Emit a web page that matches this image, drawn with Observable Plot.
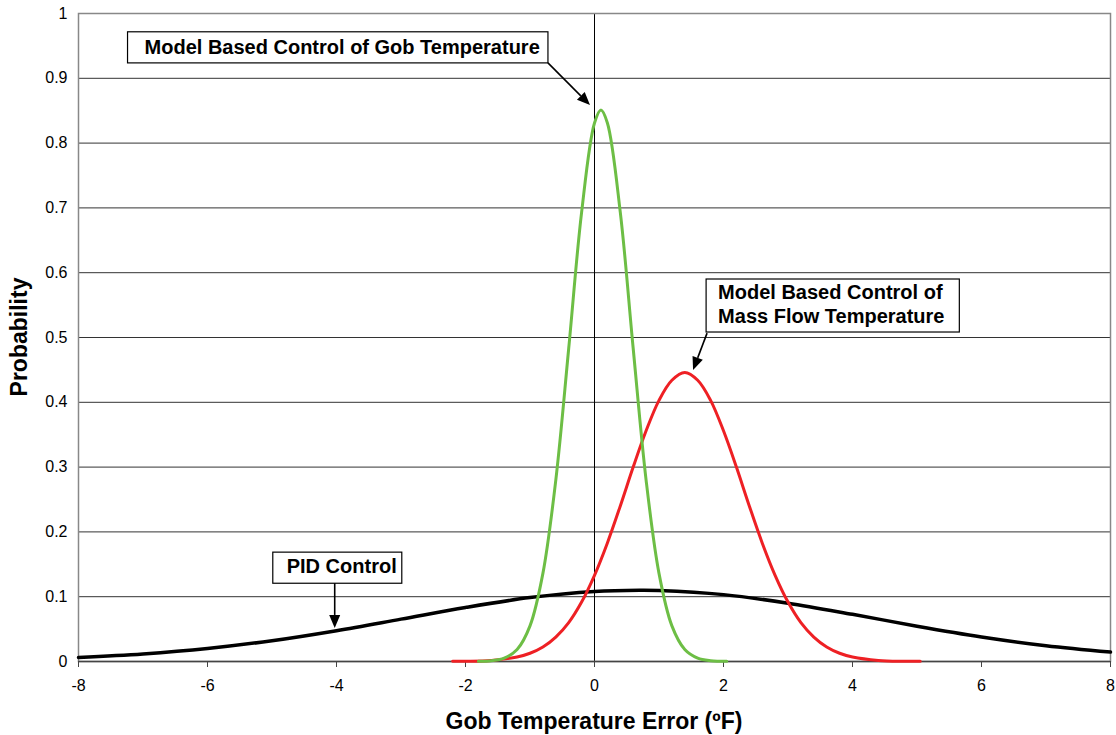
<!DOCTYPE html>
<html><head><meta charset="utf-8">
<script src="https://cdn.jsdelivr.net/npm/d3@7"></script>
<script src="https://cdn.jsdelivr.net/npm/@observablehq/plot@0.6"></script>
<style>html,body{margin:0;padding:0;background:#fff}</style>
</head><body><div id="chart"></div>
<script>
// ---- data ----
const xTicks = [-8,-6,-4,-2,0,2,4,6,8];
const yTicks = [0,0.1,0.2,0.3,0.4,0.5,0.6,0.7,0.8,0.9,1];
const gridValues = [0.1,0.2,0.3,0.4,0.5,0.6,0.7,0.8,0.9];

const pidX = [-8,-7,-6,-5,-4,-3,-2,-1,0,0.7,1,2,3,4,5,6,7,8];
const pidY = [0.0062,0.0116,0.0200,0.0321,0.0476,0.0654,0.0834,0.0986,0.1080,0.1100,0.1096,0.1032,0.0900,0.0728,0.0545,0.0379,0.0244,0.0146];

const gobX = [-1.8,-1.6,-1.4,-1.2,-1.0,-0.8,-0.6,-0.4,-0.2,0,0.1,0.2,0.4,0.6,0.8,1.0,1.2,1.4,1.6,1.8,2.05];
const gobY = [0.0002,0.0012,0.0052,0.0185,0.055,0.136,0.280,0.483,0.693,0.831,0.851,0.831,0.693,0.483,0.280,0.136,0.055,0.0185,0.0052,0.0012,0.0002];

const massX = [-2.2,-2.0,-1.6,-1.2,-1.0,-0.8,-0.6,-0.4,-0.2,0,0.2,0.4,0.6,0.8,1.0,1.2,1.4,1.6,1.8,2.0,2.2,2.4,2.6,2.8,3.0,3.2,3.4,3.6,3.8,4.0,4.4,4.8,5.05];
const massY = [0.0002,0.0004,0.0017,0.0069,0.0127,0.0224,0.0377,0.060,0.0917,0.133,0.183,0.240,0.300,0.356,0.403,0.434,0.446,0.434,0.403,0.356,0.300,0.240,0.183,0.133,0.0917,0.060,0.0377,0.0224,0.0127,0.0069,0.0017,0.0004,0.0002];

const annotationLines = [
  ["Model Based Control of Gob Temperature"],
  ["Model Based Control of","Mass Flow Temperature"],
  ["PID Control"]
];
const xTitle = "Gob Temperature Error (ºF)";
const yTitle = "Probability";

// ---- layout / style (kept separate from data) ----
const annLayout = [
  {box:[-7.232,-0.714,0.971,0.923], tx:-6.968, ty:0.9367, from:[-0.714,0.923], to:[-0.062,0.858]},
  {box:[1.738,5.664,0.5895,0.5077], tx:1.924, ty:0.5586, from:[1.753,0.506], to:[1.536,0.449]},
  {box:[-4.98,-2.98,0.168,0.120], tx:-4.764, ty:0.1358, from:[-4.02,0.120], to:[-4.02,0.051]}
];

const toRows = (xs, ys) => xs.map((x,i)=>({x, y: ys[i]}));
const pid = toRows(pidX, pidY), gob = toRows(gobX, gobY), mass = toRows(massX, massY);

const plot = Plot.plot({
  width: 1116, height: 735,
  marginLeft: 78, marginRight: 6, marginTop: 13, marginBottom: 74,
  style: {fontFamily: "'Liberation Sans', Arial, sans-serif", color: "#000", background: "#fff"},
  x: {domain: [-8, 8]},
  y: {domain: [0, 1]},
  marks: [
    Plot.gridY(gridValues, {stroke: "#333", strokeOpacity: 1, strokeWidth: 1}),
    Plot.ruleX([0], {stroke: "#000", strokeWidth: 1}),
    Plot.frame({stroke: "#888", strokeWidth: 1.5}),
    Plot.ruleY([0], {stroke: "#444", strokeWidth: 1.5}),
    Plot.axisY({ticks: yTicks, tickSize: 0, tickPadding: 11, fontSize: 16, label: null,
      tickFormat: d => String(+d.toFixed(1))}),
    Plot.axisX({ticks: xTicks, tickSize: 6, tickPadding: 12, fontSize: 16, label: null, stroke: "#444",
      tickFormat: d => String(d)}),
    Plot.line(pid, {x: "x", y: "y", stroke: "#000", strokeWidth: 3.5, curve: "catmull-rom"}),
    Plot.line(mass, {x: "x", y: "y", stroke: "#ee2024", strokeWidth: 3, curve: "catmull-rom"}),
    Plot.line(gob, {x: "x", y: "y", stroke: "#6dbe45", strokeWidth: 3, curve: "catmull-rom"})
  ]
});
document.getElementById("chart").appendChild(plot);

const sx = plot.scale("x"), sy = plot.scale("y");
const X = v => sx.apply(v), Y = v => sy.apply(v);
const svg = d3.select(plot);
const g = svg.append("g").attr("font-family", "'Liberation Sans', Arial, sans-serif");

annLayout.forEach((a, i) => {
  const [x1, x2, y1, y2] = a.box;
  g.append("rect").attr("x", X(x1)).attr("y", Y(y1))
    .attr("width", X(x2) - X(x1)).attr("height", Y(y2) - Y(y1))
    .attr("fill", "#fff").attr("stroke", "#000").attr("stroke-width", 1.2);
  annotationLines[i].forEach((t, k) => {
    g.append("text").attr("x", X(a.tx)).attr("y", Y(a.ty) + k * 24)
      .attr("text-anchor", "start")
      .attr("font-size", 20).attr("font-weight", "bold").attr("fill", "#000").text(t);
  });
  const fx = X(a.from[0]), fy = Y(a.from[1]), tx = X(a.to[0]), ty = Y(a.to[1]);
  const ang = Math.atan2(ty - fy, tx - fx), L = 13, W = 5.5;
  const bx = tx - L * Math.cos(ang), by = ty - L * Math.sin(ang);
  g.append("line").attr("x1", fx).attr("y1", fy).attr("x2", bx).attr("y2", by)
    .attr("stroke", "#000").attr("stroke-width", 1.6);
  const px = -Math.sin(ang), py = Math.cos(ang);
  g.append("polygon").attr("points",
    `${tx},${ty} ${bx + W*px},${by + W*py} ${bx - W*px},${by - W*py}`).attr("fill", "#000");
});

const [rx0, rx1] = sx.range, [ry0, ry1] = sy.range;
g.append("text").attr("x", (rx0 + rx1) / 2).attr("y", ry0 + 68)
  .attr("text-anchor", "middle").attr("font-size", 23).attr("font-weight", "bold").text(xTitle);
g.append("text").attr("transform", `translate(${rx0 - 51},${(ry0 + ry1) / 2}) rotate(-90)`)
  .attr("text-anchor", "middle").attr("font-size", 23).attr("font-weight", "bold").text(yTitle);
</script>
</body></html>
